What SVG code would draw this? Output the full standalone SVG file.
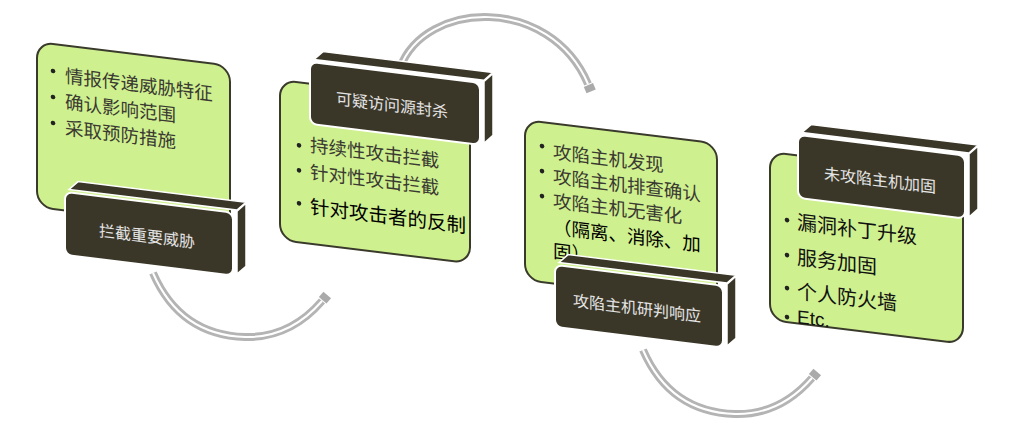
<svg xmlns="http://www.w3.org/2000/svg" width="1011" height="435" viewBox="0 0 1011 435">
<style>
.green{fill:#cff08e;stroke:#3a3a2c;stroke-width:2}
.front{fill:#3b3728;stroke:#ffffff;stroke-width:2}
.face{fill:#3b3728;stroke:#ffffff;stroke-width:1.5}
.lbl{font-family:"Noto Sans CJK SC",sans-serif;font-size:16px;fill:#e4e4e4;text-anchor:middle}
.item{font-family:"Noto Sans CJK SC",sans-serif;font-size:18.5px;fill:#3a3a32}
.strong{fill:#000000;font-size:19.5px}
.big{fill:#111111;font-size:20px}
.bul{fill:#222222}
.band{fill:none;stroke:#b4b4b4;stroke-width:8}
.gap{fill:none;stroke:#ffffff;stroke-width:2}
</style>
<defs>
<marker id="head" markerUnits="userSpaceOnUse" markerWidth="14" markerHeight="14" refX="0" refY="0" viewBox="-2 -7 14 14" orient="auto" overflow="visible">
<path d="M1,-5 L8,-5 L8,5 L1,5 Z" fill="#aaaaaa"/>
</marker>
</defs>
<g id="connectors">
<g>
<path class="band" d="M153,273 Q180,335 245,337 Q290,338 322,301" marker-end="url(#head)"/>
<path class="gap" d="M153,273 Q180,335 245,337 Q290,338 322,301"/>
</g>
<g>
<path class="band" d="M400,68 C425,0 550,-5 588,84" marker-end="url(#head)"/>
<path class="gap" d="M400,68 C425,0 550,-5 588,84"/>
</g>
<g>
<path class="band" d="M643,350 Q670,412 735,414 Q780,415 812,378" marker-end="url(#head)"/>
<path class="gap" d="M643,350 Q670,412 735,414 Q780,415 812,378"/>
</g>
</g>
<g id="node1">
<g transform="translate(37,42) skewY(7)">
<rect class="green" width="193" height="165" rx="16"/>
<circle class="bul" cx="16" cy="27" r="2.3"/>
<circle class="bul" cx="16" cy="53" r="2.3"/>
<circle class="bul" cx="16" cy="79" r="2.3"/>
<text class="item" x="28" y="37">情报传递威胁特征</text>
<text class="item" x="28" y="63">确认影响范围</text>
<text class="item" x="28" y="89">采取预防措施</text>
</g>
<g transform="translate(65,192) skewY(7)">
<polygon class="face" points="4,-3 13,-12 181,-12 172,-3"/>
<polygon class="face" points="172,-2 181,-11 181,52 172,61"/>
<rect class="front" width="168" height="63" rx="7"/>
<text class="lbl" x="82" y="40">拦截重要威胁</text>
</g>
</g>
<g id="node2">
<g transform="translate(280,80) skewY(7)">
<rect class="green" width="190" height="160" rx="16"/>
<circle class="bul" cx="19" cy="63" r="2.3"/>
<circle class="bul" cx="19" cy="88" r="2.3"/>
<circle class="bul" cx="19" cy="121" r="2.3"/>
<text class="item" x="30" y="68">持续性攻击拦截</text>
<text class="item" x="30" y="95">针对性攻击拦截</text>
<text class="item strong" x="30" y="130">针对攻击者的反制</text>
</g>
<g transform="translate(310,62) skewY(7)">
<polygon class="face" points="4,-3 13,-12 183,-12 174,-3"/>
<polygon class="face" points="174,-2 183,-11 183,51 174,60"/>
<rect class="front" width="170" height="62" rx="7"/>
<text class="lbl" x="82" y="39">可疑访问源封杀</text>
</g>
</g>
<g id="node3">
<g transform="translate(525,120) skewY(7)">
<rect class="green" width="192" height="160" rx="16"/>
<circle class="bul" cx="17" cy="24" r="2.3"/>
<circle class="bul" cx="17" cy="49" r="2.3"/>
<circle class="bul" cx="17" cy="74" r="2.3"/>
<text class="item" x="28" y="35">攻陷主机发现</text>
<text class="item" x="28" y="59.5">攻陷主机排查确认</text>
<text class="item" x="28" y="84">攻陷主机无害化</text>
<text class="item strong" x="28" y="110" style="font-size:18.5px">（隔离、消除、加</text>
<text class="item strong" x="28" y="134" style="font-size:18.5px">固）</text>
</g>
<g transform="translate(555,265) skewY(7)">
<polygon class="face" points="4,-3 13,-12 181,-12 172,-3"/>
<polygon class="face" points="172,-2 181,-11 181,51 172,60"/>
<rect class="front" width="168" height="62" rx="7"/>
<text class="lbl" x="82" y="39">攻陷主机研判响应</text>
</g>
</g>
<g id="node4">
<g transform="translate(770,152) skewY(7)">
<rect class="green" width="193" height="168" rx="16"/>
<circle class="bul" cx="17" cy="66" r="2.3"/>
<circle class="bul" cx="17" cy="101" r="2.3"/>
<circle class="bul" cx="17" cy="134" r="2.3"/>
<circle class="bul" cx="17" cy="163" r="2.3"/>
<text class="item big" x="27" y="74">漏洞补丁升级</text>
<text class="item big" x="27" y="109">服务加固</text>
<text class="item big" x="27" y="143">个人防火墙</text>
<text class="item big" x="27" y="168" style="font-family:'Liberation Sans',sans-serif;font-size:19px">Etc.</text>
</g>
<g transform="translate(798,135) skewY(7)">
<polygon class="face" points="4,-3 13,-12 180,-12 171,-3"/>
<polygon class="face" points="171,-2 180,-11 180,52 171,61"/>
<rect class="front" width="167" height="63" rx="7"/>
<text class="lbl" x="82" y="41">未攻陷主机加固</text>
</g>
</g>
</svg>
